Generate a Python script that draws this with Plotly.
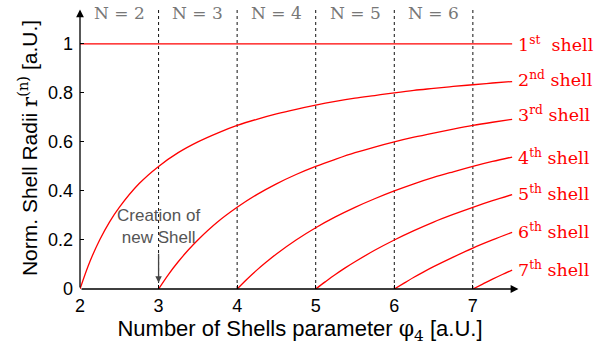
import plotly.graph_objects as go

# Normalised shell radii r^(n) against the number-of-shells parameter phi_4
shell_1_x = [2.0, 7.5]
shell_1 = [1.0, 1.0]

shell_2_x = [2.0, 2.125, 2.25, 2.375, 2.5, 2.75, 3.0, 3.25, 3.5, 3.75, 4.0, 4.25, 4.5,
             4.75, 5.0, 5.25, 5.5, 5.75, 6.0, 6.25, 6.5, 6.75, 7.0, 7.25, 7.5]
shell_2 = [0.0, 0.111, 0.2, 0.273, 0.333, 0.429, 0.5, 0.556, 0.6, 0.636, 0.667, 0.692,
           0.714, 0.733, 0.75, 0.765, 0.778, 0.789, 0.8, 0.81, 0.818, 0.826, 0.833,
           0.84, 0.846]

shell_3_x = [3.0, 3.125, 3.25, 3.375, 3.5, 3.75, 4.0, 4.25, 4.5, 4.75, 5.0, 5.25, 5.5,
             5.75, 6.0, 6.25, 6.5, 6.75, 7.0, 7.25, 7.5]
shell_3 = [0.0, 0.059, 0.111, 0.158, 0.2, 0.273, 0.333, 0.385, 0.429, 0.467, 0.5, 0.529,
           0.556, 0.579, 0.6, 0.619, 0.636, 0.652, 0.667, 0.68, 0.692]

shell_4_x = [4.0, 4.125, 4.25, 4.375, 4.5, 4.75, 5.0, 5.25, 5.5, 5.75, 6.0, 6.25, 6.5,
             6.75, 7.0, 7.25, 7.5]
shell_4 = [0.0, 0.04, 0.077, 0.111, 0.143, 0.2, 0.25, 0.294, 0.333, 0.368, 0.4, 0.429,
           0.455, 0.478, 0.5, 0.52, 0.538]

shell_5_x = [5.0, 5.125, 5.25, 5.375, 5.5, 5.75, 6.0, 6.25, 6.5, 6.75, 7.0, 7.25, 7.5]
shell_5 = [0.0, 0.03, 0.059, 0.086, 0.111, 0.158, 0.2, 0.238, 0.273, 0.304, 0.333, 0.36,
           0.385]

shell_6_x = [6.0, 6.125, 6.25, 6.375, 6.5, 6.75, 7.0, 7.25, 7.5]
shell_6 = [0.0, 0.024, 0.048, 0.07, 0.091, 0.13, 0.167, 0.2, 0.231]

shell_7_x = [7.0, 7.125, 7.25, 7.375, 7.5]
shell_7 = [0.0, 0.02, 0.04, 0.059, 0.077]

shells = [(shell_1_x, shell_1), (shell_2_x, shell_2), (shell_3_x, shell_3),
          (shell_4_x, shell_4), (shell_5_x, shell_5), (shell_6_x, shell_6),
          (shell_7_x, shell_7)]
shell_labels = ["1<sup>st</sup>\u00a0 shell", "2<sup>nd</sup> shell", "3<sup>rd</sup> shell",
                "4<sup>th</sup> shell", "5<sup>th</sup> shell", "6<sup>th</sup> shell",
                "7<sup>th</sup> shell"]
label_y = [1.0, 0.857, 0.714, 0.539, 0.392, 0.237, 0.082]

boundaries = [3, 4, 5, 6, 7]
regions = ["N = 2", "N = 3", "N = 4", "N = 5", "N = 6"]

x_ticks = [2, 3, 4, 5, 6, 7]
y_ticks = [0, 0.2, 0.4, 0.6, 0.8, 1]

RED = "#ff0000"
SERIF = "DejaVu Serif"
SANS = "Liberation Sans, Arial"

fig = go.Figure()
for xs, vals in shells:
    fig.add_trace(go.Scatter(x=xs, y=vals, mode="lines",
                             line=dict(color=RED, width=1.3, shape="spline", smoothing=1.0),
                             showlegend=False, hoverinfo="skip"))

shapes = []
for b in boundaries:
    shapes.append(dict(type="line", xref="x", yref="y", x0=b, x1=b, y0=0, y1=1.15,
                       line=dict(color="#111", width=1, dash="3px,3px"), layer="below"))

ann = []
# axis arrows
ann.append(dict(x=7.58, y=0, ax=2, ay=0, xref="x", yref="y", axref="x", ayref="y",
                showarrow=True, arrowhead=2, arrowsize=1.2, arrowwidth=1.3,
                arrowcolor="black", text=""))
ann.append(dict(x=2, y=1.14, ax=2, ay=0, xref="x", yref="y", axref="x", ayref="y",
                showarrow=True, arrowhead=2, arrowsize=1.2, arrowwidth=1.3,
                arrowcolor="black", text=""))
for i, r in enumerate(regions):
    ann.append(dict(x=2.5 + i, y=1.127, xref="x", yref="y", text=r, showarrow=False,
                    font=dict(family=SERIF, size=17, color="#777")))
for t, yv in zip(shell_labels, label_y):
    ann.append(dict(x=7.55, y=yv, xref="x", yref="y", text=t, showarrow=False,
                    xanchor="left", yanchor="middle",
                    font=dict(family=SERIF, size=17.5, color=RED)))
ann.append(dict(x=3, y=0.255, xref="x", yref="y", text="Creation of<br>new Shell",
                showarrow=False, yanchor="middle",
                font=dict(family=SANS, size=17, color="#555")))
ann.append(dict(x=3, y=0.025, ax=3, ay=0.15, xref="x", yref="y", axref="x", ayref="y",
                showarrow=True, arrowhead=2, arrowsize=1, arrowwidth=1.3,
                arrowcolor="#444", text=""))

fig.update_layout(
    width=600, height=349,
    margin=dict(l=80, r=80, t=7, b=60),
    paper_bgcolor="white", plot_bgcolor="white",
    shapes=shapes, annotations=ann,
    font=dict(family=SANS, size=18, color="black"),
    xaxis=dict(range=[2, 7.6], tickvals=x_ticks, ticktext=[str(v) for v in x_ticks],
               showgrid=False, zeroline=False, showline=False,
               ticks="inside", ticklen=4, tickcolor="black", ticklabelstandoff=4,
               tickfont=dict(family=SANS, size=18),
               title=dict(text="Number of Shells parameter <span style=\"font-family:DejaVu Serif\">\u03c6<sub>4</sub></span> [a.U.]",
                          font=dict(family=SANS, size=22), standoff=2)),
    yaxis=dict(range=[0, 1.15], tickvals=y_ticks, ticktext=["0", "0.2", "0.4", "0.6", "0.8", "1"],
               showgrid=False, zeroline=False, showline=False,
               ticks="inside", ticklen=4, tickcolor="black", ticklabelstandoff=6,
               tickfont=dict(family=SANS, size=18),
               title=dict(text="Norm. Shell Radii <span style=\"font-family:DejaVu Serif\">r<sup>(n)</sup></span> [a.U.]",
                          font=dict(family=SANS, size=21), standoff=4)),
)

fig.write_html("out.html")
